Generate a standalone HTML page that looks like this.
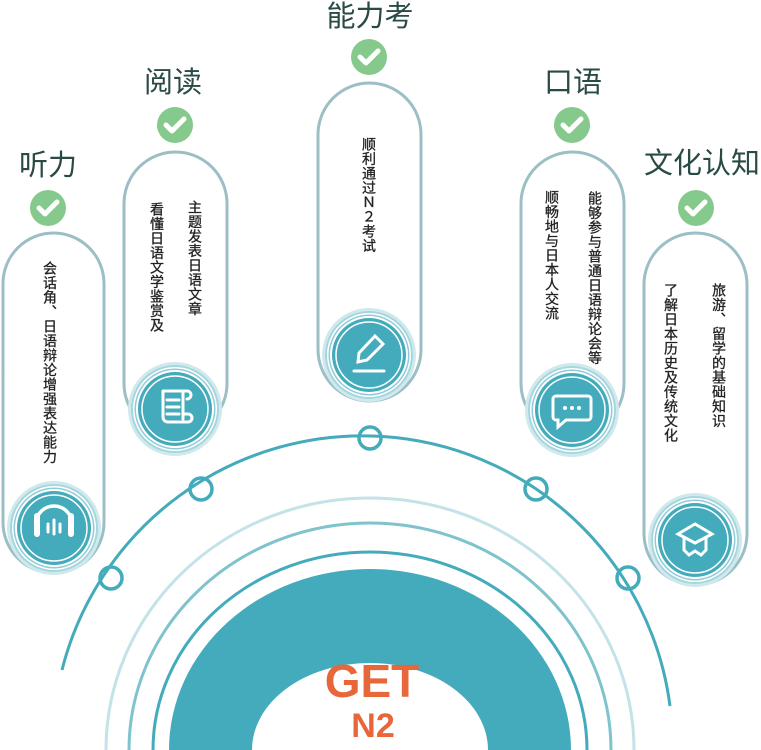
<!DOCTYPE html>
<html><head><meta charset="utf-8"><style>
html,body{margin:0;padding:0;background:#fff;width:761px;height:750px;overflow:hidden}
svg{display:block}
.t{font-family:"Liberation Sans","Noto Sans CJK SC",sans-serif;fill:#2a4a46;font-size:29px;text-anchor:middle}
.v{position:absolute;writing-mode:vertical-rl;text-orientation:upright;font-family:"Liberation Sans","Noto Sans CJK SC",sans-serif;font-size:14px;color:#222;letter-spacing:0.5px;line-height:14px;-webkit-text-stroke:0.3px #222}
</style></head><body>
<div style="position:relative;width:761px;height:750px">
<svg width="761" height="750" viewBox="0 0 761 750">
<defs>
<g id="chk"><circle r="18" fill="#86c98c"/><path d="M-9,0 L-3,6 L9,-6" stroke="#fff" stroke-width="5" fill="none" stroke-linecap="round" stroke-linejoin="round"/></g>
<g id="ic">
<circle r="47" fill="#cfe9ed"/>
<circle r="44" fill="#a6d6de"/>
<circle r="42" fill="#fff"/>
<circle r="40.5" fill="#8fcbd5"/>
<circle r="39" fill="#fff"/>
<circle r="37" fill="#43abbb"/>
<circle r="33" fill="none" stroke="#fff" stroke-width="1.5"/>
</g>
</defs>
<path d="M62,670 A310,310 0 0 1 670,706" fill="none" stroke="#43abbb" stroke-width="3"/>
<path d="M106,750 A264,252 0 0 1 634,750" fill="none" stroke="#c3e3e8" stroke-width="3"/>
<path d="M129,750 A241,227 0 0 1 611,750" fill="none" stroke="#7fc3cd" stroke-width="3"/>
<path d="M153,750 A217,198 0 0 1 587,750" fill="none" stroke="#43abbb" stroke-width="3"/>
<path d="M169,750 A201,181 0 0 1 571,750 L488,750 A118,87 0 0 0 252,750 Z" fill="#43abbb"/>
<g fill="none" stroke="#43abbb" stroke-width="3.5">
<circle cx="370" cy="438" r="11"/><circle cx="201" cy="489" r="11"/><circle cx="111" cy="578" r="11"/><circle cx="536" cy="489" r="11"/><circle cx="628" cy="578" r="11"/>
</g>
<text x="372" y="697" fill="#e8673a" font-family="Liberation Sans,sans-serif" font-weight="bold" font-size="46" text-anchor="middle">GET</text>
<text x="373" y="737" fill="#e8673a" font-family="Liberation Sans,sans-serif" font-weight="bold" font-size="34" text-anchor="middle">N2</text>
<g fill="#fff" stroke="#9bbfc4" stroke-width="3">
<rect x="3" y="233" width="101" height="340" rx="50.5"/>
<rect x="124" y="152" width="103" height="283" rx="51.5"/>
<rect x="318" y="83" width="103" height="318" rx="51.5"/>
<rect x="521" y="152" width="103" height="283" rx="51.5"/>
<rect x="644" y="233" width="103" height="352" rx="51.5"/>
</g>
<text class="t" x="48" y="175">听力</text>
<text class="t" x="173" y="92">阅读</text>
<text class="t" x="370" y="26">能力考</text>
<text class="t" x="573" y="92">口语</text>
<text class="t" x="702" y="173">文化认知</text>
<use href="#chk" x="48" y="208"/><use href="#chk" x="175" y="125"/><use href="#chk" x="369" y="57"/><use href="#chk" x="572" y="125"/><use href="#chk" x="696" y="208"/>
<use href="#ic" x="54" y="528"/><use href="#ic" x="175" y="409"/><use href="#ic" x="369" y="355"/><use href="#ic" x="572" y="410"/><use href="#ic" x="695" y="540"/>
<g stroke="#fff" fill="none" stroke-width="3.5" stroke-linecap="round">
<path d="M36,524 A18,18 0 0 1 72,524"/>
<path d="M37,516 v18 M71,516 v18" stroke-width="6"/>
<path d="M48,524 v8 M54,520 v14 M60,524 v8" stroke-width="3"/>
<path d="M163,391 h20 v28 M163,391 v26 a5,5 0 0 0 5,5 h20 a4,4 0 0 0 0,-8 h-4 M183,391 h4 a3,3 0 0 1 0,8" stroke-width="3"/>
<path d="M167,400 h12 M167,407 h12 M167,414 h12" stroke-width="3"/>
<path d="M375,336 l8,8 l-16,16 l-9,2 l1,-9 z" stroke-width="3"/>
<path d="M354,371 h30" stroke-width="3"/>
<path d="M556,396 h32 a3,3 0 0 1 3,3 v18 a3,3 0 0 1 -3,3 h-22 l-8,7 v-7 h-2 a3,3 0 0 1 -3,-3 v-18 a3,3 0 0 1 3,-3 z" stroke-width="3"/>
<path d="M678,534 l17,-10 l17,10 l-17,9 z M684,538 v12 l5,5 l6,-4 l6,4 l5,-5 v-12" stroke-width="3"/>
</g>
<g fill="#fff"><circle cx="565" cy="408" r="2"/><circle cx="572" cy="408" r="2"/><circle cx="579" cy="408" r="2"/></g>
</svg>
<div class="v" style="left:43px;top:261px">会话角、日语辩论增强表达能力</div>
<div class="v" style="left:188px;top:200px">主题发表日语文章</div>
<div class="v" style="left:150px;top:202px">看懂日语文学鉴赏及</div>
<div class="v" style="left:362px;top:137px">顺利通过Ｎ２考试</div>
<div class="v" style="left:588px;top:191px">能够参与普通日语辩论会等</div>
<div class="v" style="left:545px;top:190px">顺畅地与日本人交流</div>
<div class="v" style="left:712px;top:283px">旅游、留学的基础知识</div>
<div class="v" style="left:664px;top:283px">了解日本历史及传统文化</div>
</div>
</body></html>
